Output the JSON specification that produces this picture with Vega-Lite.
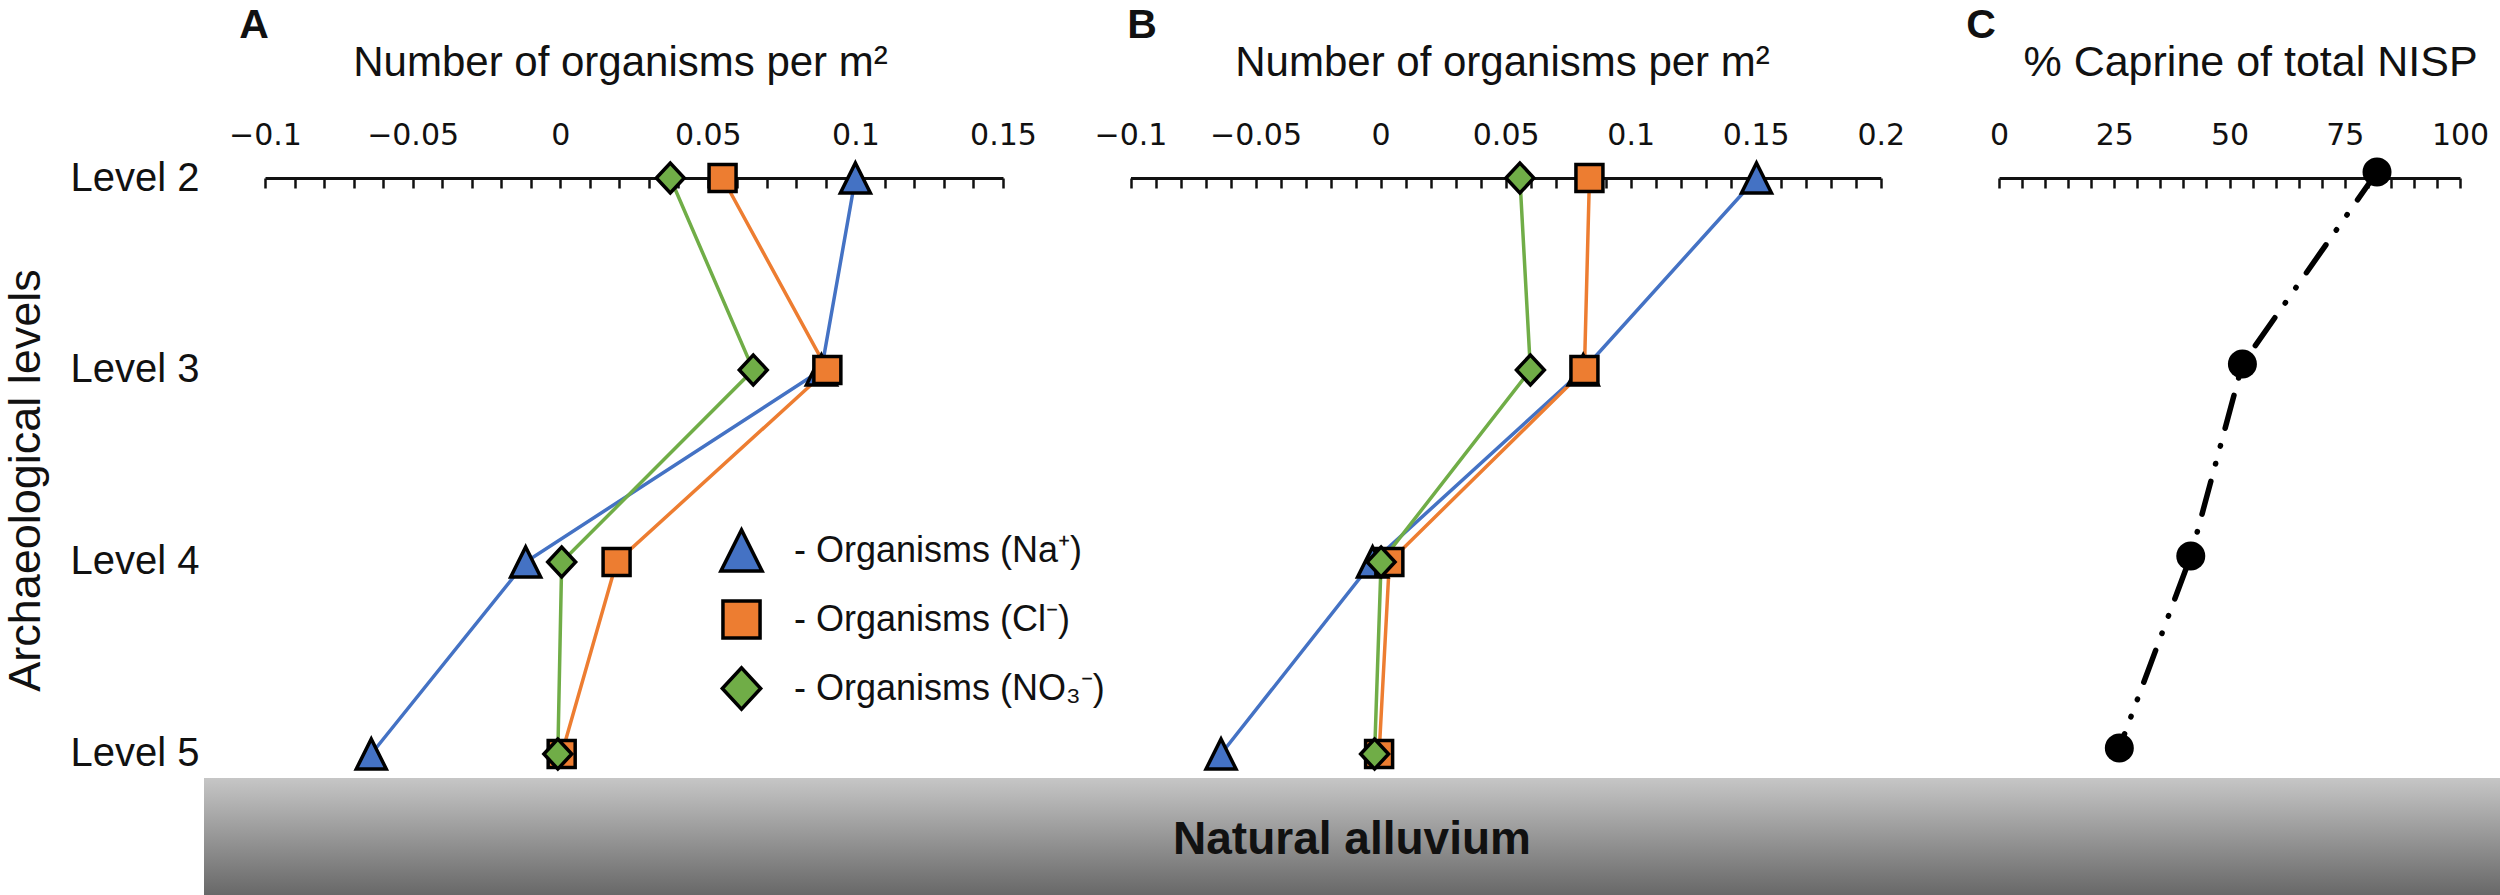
{
  "$schema": "https://vega.github.io/schema/vega-lite/v6.json",
  "width": 2296,
  "height": 717,
  "autosize": {"type": "none"},
  "padding": {"left": 204, "top": 178, "right": 0, "bottom": 0},
  "background": "white",
  "config": {
    "font": "Liberation Sans",
    "view": {"stroke": null},
    "axis": {"grid": false, "labelColor": "#111", "titleColor": "#111", "domainColor": "#111", "tickColor": "#111"},
    "legend": {
      "orient": "none", "legendX": 515, "legendY": 350, "title": null, "padding": 0,
      "symbolSize": 1700, "symbolStrokeColor": "#000", "symbolStrokeWidth": 3.5,
      "labelFontSize": 36, "labelColor": "#111", "labelLimit": 600, "labelOffset": 30, "rowPadding": 14
    }
  },
  "datasets": {
    "panelA": [
      {"series": "Na⁺", "level": 2, "value": 0.1},
      {"series": "Na⁺", "level": 3, "value": 0.0885},
      {"series": "Na⁺", "level": 4, "value": -0.0117},
      {"series": "Na⁺", "level": 5, "value": -0.064},
      {"series": "Cl⁻", "level": 2, "value": 0.055},
      {"series": "Cl⁻", "level": 3, "value": 0.0905},
      {"series": "Cl⁻", "level": 4, "value": 0.0191},
      {"series": "Cl⁻", "level": 5, "value": 0.0005},
      {"series": "NO₃⁻", "level": 2, "value": 0.0373},
      {"series": "NO₃⁻", "level": 3, "value": 0.0654},
      {"series": "NO₃⁻", "level": 4, "value": 0.0005},
      {"series": "NO₃⁻", "level": 5, "value": -0.0008}
    ],
    "panelB": [
      {"series": "Na⁺", "level": 2, "value": 0.1503},
      {"series": "Na⁺", "level": 3, "value": 0.081},
      {"series": "Na⁺", "level": 4, "value": -0.0032},
      {"series": "Na⁺", "level": 5, "value": -0.0638},
      {"series": "Cl⁻", "level": 2, "value": 0.0835},
      {"series": "Cl⁻", "level": 3, "value": 0.0815},
      {"series": "Cl⁻", "level": 4, "value": 0.0035},
      {"series": "Cl⁻", "level": 5, "value": -0.0006},
      {"series": "NO₃⁻", "level": 2, "value": 0.0557},
      {"series": "NO₃⁻", "level": 3, "value": 0.0599},
      {"series": "NO₃⁻", "level": 4, "value": 0.0002},
      {"series": "NO₃⁻", "level": 5, "value": -0.0024}
    ],
    "caprine": [
      {"level": 2, "pct": 82},
      {"level": 3, "pct": 52.8},
      {"level": 4, "pct": 41.6},
      {"level": 5, "pct": 26.1}
    ],
    "alluvium": [
      {"unit": "Natural alluvium", "top": 5.125, "base": 5.7344}
    ],
    "panelsA": [{"panel": "A"}],
    "panelsB": [{"panel": "B"}],
    "panelsC": [{"panel": "C"}]
  },
  "resolve": {"scale": {"x": "independent"}, "axis": {"x": "independent"}},
  "layer": [
    {
      "data": {"name": "alluvium"},
      "mark": {
        "type": "rect",
        "color": {
          "gradient": "linear", "x1": 0, "y1": 0, "x2": 0, "y2": 1,
          "stops": [{"offset": 0, "color": "#c6c6c6"}, {"offset": 1, "color": "#686868"}]
        }
      },
      "encoding": {
        "x": {"value": 0},
        "x2": {"value": "width"},
        "y": {"field": "top", "type": "quantitative", "scale": {"domain": [2, 5.7344], "reverse": true, "nice": false, "zero": false}},
        "y2": {"field": "base"}
      }
    },
    {
      "data": {"name": "alluvium"},
      "mark": {"type": "text", "fontSize": 46, "fontWeight": "bold", "baseline": "middle", "align": "center", "color": "#111"},
      "encoding": {
        "y": {"datum": 5.448, "type": "quantitative"},
        "text": {"field": "unit"}
      }
    },
    {
      "data": {"name": "panelA"},
      "mark": {"type": "line", "strokeWidth": 3.5},
      "encoding": {
        "x": {
          "field": "value", "type": "quantitative",
          "scale": {"domain": [-0.1, 0.15], "range": [61, 799], "nice": false, "zero": false},
          "axis": {
            "orient": "top", "title": "Number of organisms per m²",
            "titleFontSize": 42, "titleFontWeight": "normal", "titleBaseline": "alphabetic", "titleY": -103, "titleX": 416, "titleAlign": "center",
            "values": [-0.1, -0.09, -0.08, -0.07, -0.06, -0.05, -0.04, -0.03, -0.02, -0.01, 0, 0.01, 0.02, 0.03, 0.04, 0.05, 0.06, 0.07, 0.08, 0.09, 0.1, 0.11, 0.12, 0.13, 0.14, 0.15],
            "format": "~g",
            "labelExpr": "abs(round(datum.value * 100)) % 5 == 0 ? datum.label : ''",
            "labelFont": "DejaVu Sans", "labelFontSize": 30, "labelBaseline": "alphabetic", "labelPadding": 44, "labelFlush": false, "labelOverlap": false,
            "tickSize": -10, "tickWidth": 2.5, "domainWidth": 3
          }
        },
        "y": {
          "field": "level", "type": "quantitative",
          "axis": {
            "orient": "left", "values": [2, 3, 4, 5],
            "labelExpr": "'Level ' + datum.value",
            "labelFontSize": 40, "labelPadding": 5, "labelBaseline": "middle",
            "ticks": false, "domain": false,
            "title": "Archaeological levels", "titleFontSize": 45, "titleFontWeight": "normal",
            "titleAngle": 270, "titleX": -165, "titleY": 302, "titleAlign": "center", "titleBaseline": "alphabetic"
          }
        },
        "color": {
          "field": "series", "type": "nominal",
          "scale": {"domain": ["NO₃⁻", "Cl⁻", "Na⁺"], "range": ["#70ad47", "#ed7d31", "#4472c4"]},
          "legend": null
        },
        "order": {"field": "level"}
      }
    },
    {
      "data": {"name": "panelA"},
      "mark": {"type": "point", "filled": true, "size": 900, "strokeWidth": 3.5, "opacity": 1},
      "encoding": {
        "x": {"field": "value", "type": "quantitative", "scale": {"domain": [-0.1, 0.15], "range": [61, 799], "nice": false, "zero": false}, "axis": null},
        "y": {"field": "level", "type": "quantitative"},
        "fill": {
          "field": "series", "type": "nominal",
          "scale": {"domain": ["Na⁺", "Cl⁻", "NO₃⁻"], "range": ["#4472c4", "#ed7d31", "#70ad47"]},
          "legend": {"labelExpr": "'- Organisms (' + datum.label + ')'", "rowPadding": 14}
        },
        "stroke": {
          "field": "series", "type": "nominal",
          "scale": {"domain": ["Na⁺", "Cl⁻", "NO₃⁻"], "range": ["#000000", "#000000", "#000000"]},
          "legend": {"labelExpr": "'- Organisms (' + datum.label + ')'", "rowPadding": 14}
        },
        "shape": {
          "field": "series", "type": "nominal",
          "scale": {"domain": ["Na⁺", "Cl⁻", "NO₃⁻"], "range": ["M0,-1L1,1L-1,1Z", "M-0.9,-0.9L0.9,-0.9L0.9,0.9L-0.9,0.9Z", "M-0.93,0L0,-1L0.93,0L0,1Z"]},
          "legend": {"labelExpr": "'- Organisms (' + datum.label + ')'", "rowPadding": 14}
        }
      }
    },
    {
      "data": {"name": "panelsA"},
      "mark": {"type": "text", "fontSize": 41, "fontWeight": "bold", "baseline": "alphabetic", "align": "center", "color": "#111"},
      "encoding": {
        "x": {"datum": -0.1037, "type": "quantitative", "scale": {"domain": [-0.1, 0.15], "range": [61, 799], "nice": false, "zero": false}, "axis": null},
        "y": {"datum": 1.271, "type": "quantitative"},
        "text": {"field": "panel"}
      }
    },
    {
      "data": {"name": "panelB"},
      "mark": {"type": "line", "strokeWidth": 3.5},
      "encoding": {
        "x": {
          "field": "value", "type": "quantitative",
          "scale": {"domain": [-0.1, 0.2], "range": [926.5, 1676.8], "nice": false, "zero": false},
          "axis": {
            "orient": "top", "title": "Number of organisms per m²",
            "titleFontSize": 42, "titleFontWeight": "normal", "titleBaseline": "alphabetic", "titleY": -103, "titleX": 1298, "titleAlign": "center",
            "values": [-0.1, -0.09, -0.08, -0.07, -0.06, -0.05, -0.04, -0.03, -0.02, -0.01, 0, 0.01, 0.02, 0.03, 0.04, 0.05, 0.06, 0.07, 0.08, 0.09, 0.1, 0.11, 0.12, 0.13, 0.14, 0.15, 0.16, 0.17, 0.18, 0.19, 0.2],
            "format": "~g",
            "labelExpr": "abs(round(datum.value * 100)) % 5 == 0 ? datum.label : ''",
            "labelFont": "DejaVu Sans", "labelFontSize": 30, "labelBaseline": "alphabetic", "labelPadding": 44, "labelFlush": false, "labelOverlap": false,
            "tickSize": -10, "tickWidth": 2.5, "domainWidth": 3
          }
        },
        "y": {"field": "level", "type": "quantitative"},
        "color": {
          "field": "series", "type": "nominal",
          "scale": {"domain": ["NO₃⁻", "Cl⁻", "Na⁺"], "range": ["#70ad47", "#ed7d31", "#4472c4"]},
          "legend": null
        },
        "order": {"field": "level"}
      }
    },
    {
      "data": {"name": "panelB"},
      "mark": {"type": "point", "filled": true, "size": 900, "strokeWidth": 3.5, "opacity": 1},
      "encoding": {
        "x": {"field": "value", "type": "quantitative", "scale": {"domain": [-0.1, 0.2], "range": [926.5, 1676.8], "nice": false, "zero": false}, "axis": null},
        "y": {"field": "level", "type": "quantitative"},
        "fill": {
          "field": "series", "type": "nominal",
          "scale": {"domain": ["Na⁺", "Cl⁻", "NO₃⁻"], "range": ["#4472c4", "#ed7d31", "#70ad47"]},
          "legend": {"labelExpr": "'- Organisms (' + datum.label + ')'", "rowPadding": 14}
        },
        "stroke": {
          "field": "series", "type": "nominal",
          "scale": {"domain": ["Na⁺", "Cl⁻", "NO₃⁻"], "range": ["#000000", "#000000", "#000000"]},
          "legend": {"labelExpr": "'- Organisms (' + datum.label + ')'", "rowPadding": 14}
        },
        "shape": {
          "field": "series", "type": "nominal",
          "scale": {"domain": ["Na⁺", "Cl⁻", "NO₃⁻"], "range": ["M0,-1L1,1L-1,1Z", "M-0.9,-0.9L0.9,-0.9L0.9,0.9L-0.9,0.9Z", "M-0.93,0L0,-1L0.93,0L0,1Z"]},
          "legend": {"labelExpr": "'- Organisms (' + datum.label + ')'", "rowPadding": 14}
        }
      }
    },
    {
      "data": {"name": "panelsB"},
      "mark": {"type": "text", "fontSize": 41, "fontWeight": "bold", "baseline": "alphabetic", "align": "center", "color": "#111"},
      "encoding": {
        "x": {"datum": -0.0954, "type": "quantitative", "scale": {"domain": [-0.1, 0.2], "range": [926.5, 1676.8], "nice": false, "zero": false}, "axis": null},
        "y": {"datum": 1.271, "type": "quantitative"},
        "text": {"field": "panel"}
      }
    },
    {
      "data": {"name": "caprine"},
      "mark": {"type": "line", "color": "#000", "strokeWidth": 5.5, "strokeCap": "round", "strokeDash": [34, 18, 0.5, 18, 0.5, 18], "yOffset": -6},
      "encoding": {
        "x": {
          "field": "pct", "type": "quantitative",
          "scale": {"domain": [0, 100], "range": [1795, 2256], "nice": false, "zero": false},
          "axis": {
            "orient": "top", "title": "% Caprine of total NISP",
            "titleFontSize": 43, "titleFontWeight": "normal", "titleBaseline": "alphabetic", "titleY": -103, "titleX": 2046, "titleAlign": "center",
            "values": [0, 5, 10, 15, 20, 25, 30, 35, 40, 45, 50, 55, 60, 65, 70, 75, 80, 85, 90, 95, 100],
            "labelExpr": "datum.value % 25 == 0 ? datum.label : ''",
            "labelFont": "DejaVu Sans", "labelFontSize": 30, "labelBaseline": "alphabetic", "labelPadding": 44, "labelFlush": false, "labelOverlap": false,
            "tickSize": -10, "tickWidth": 2.5, "domainWidth": 3
          }
        },
        "y": {"field": "level", "type": "quantitative"},
        "order": {"field": "level"}
      }
    },
    {
      "data": {"name": "caprine"},
      "mark": {"type": "point", "shape": "circle", "filled": true, "size": 841, "color": "#000", "opacity": 1, "yOffset": -6},
      "encoding": {
        "x": {"field": "pct", "type": "quantitative", "scale": {"domain": [0, 100], "range": [1795, 2256], "nice": false, "zero": false}, "axis": null},
        "y": {"field": "level", "type": "quantitative"}
      }
    },
    {
      "data": {"name": "panelsC"},
      "mark": {"type": "text", "fontSize": 41, "fontWeight": "bold", "baseline": "alphabetic", "align": "center", "color": "#111"},
      "encoding": {
        "x": {"datum": -3.9, "type": "quantitative", "scale": {"domain": [0, 100], "range": [1795, 2256], "nice": false, "zero": false}, "axis": null},
        "y": {"datum": 1.271, "type": "quantitative"},
        "text": {"field": "panel"}
      }
    }
  ]
}
